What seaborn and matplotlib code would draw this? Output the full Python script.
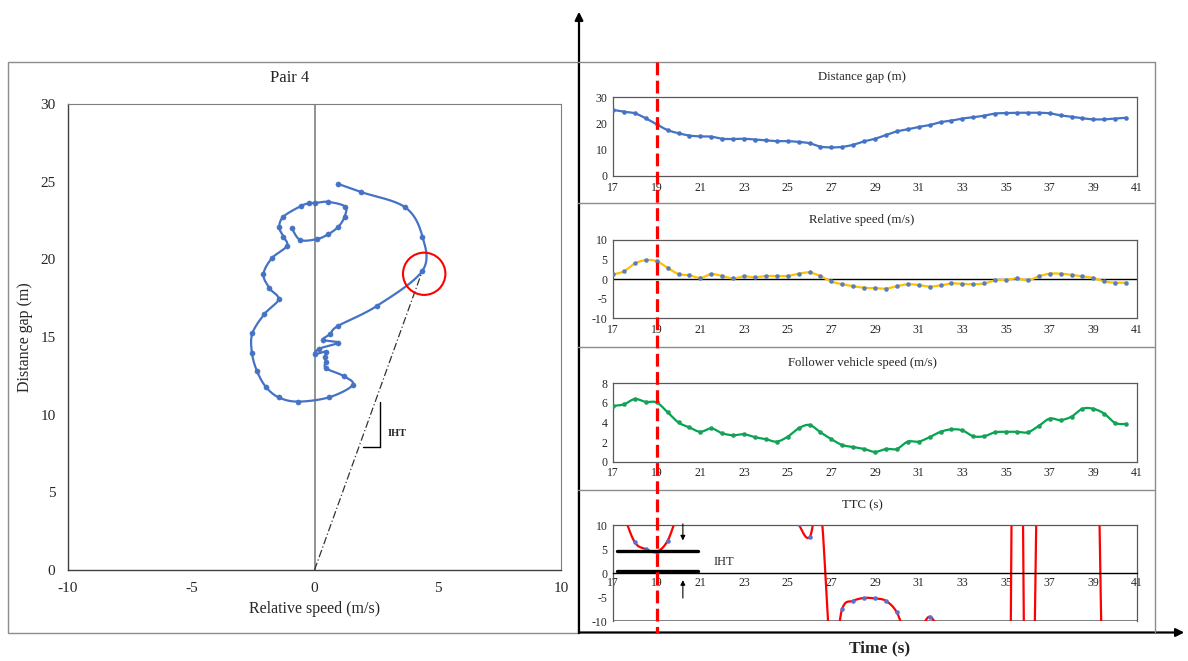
import numpy as np
import pandas as pd
import seaborn as sns
import matplotlib
matplotlib.use("Agg")
import matplotlib.pyplot as plt
from matplotlib.lines import Line2D
from matplotlib.patches import Ellipse, FancyArrowPatch, Rectangle

# ---------------- data ----------------
time = [17, 17.5, 18, 18.5, 19, 19.5, 20, 20.5, 21, 21.5, 22, 22.5, 23, 23.5, 24, 24.5,
        25, 25.5, 26, 26.5, 27, 27.5, 28, 28.5, 29, 29.5, 30, 30.5, 31, 31.5, 32, 32.5,
        33, 33.5, 34, 34.5, 35, 35.5, 36, 36.5, 37, 37.5, 38, 38.5, 39, 39.5, 40, 40.5]
gap = [25.2, 24.5, 23.9, 22.0, 19.7, 17.5, 16.3, 15.4, 15.1, 15.0, 14.2, 14.1, 14.2, 13.9, 13.6, 13.3,
       13.3, 13.0, 12.5, 11.2, 10.9, 11.1, 11.9, 13.2, 14.2, 15.6, 17.0, 17.8, 18.7, 19.4, 20.5, 21.1,
       21.9, 22.4, 23.0, 23.8, 24.0, 24.1, 24.1, 24.1, 23.9, 23.1, 22.6, 22.0, 21.6, 21.6, 21.9, 22.2]
rel = [1.2, 2.0, 4.0, 4.85, 4.6, 2.9, 1.3, 1.0, 0.3, 1.3, 0.8, 0.2, 0.7, 0.5, 0.8, 0.8,
       0.8, 1.4, 1.7, 0.8, -0.6, -1.3, -1.8, -2.2, -2.3, -2.4, -1.8, -1.3, -1.5, -1.9, -1.6, -1.1,
       -1.2, -1.3, -1.1, -0.3, -0.2, 0.2, -0.3, 0.7, 1.4, 1.4, 1.1, 0.7, 0.3, -0.6, -0.9, -0.9]
speed = [5.7, 5.85, 6.4, 6.1, 6.05, 5.05, 4.0, 3.5, 3.05, 3.4, 2.9, 2.7, 2.8, 2.5, 2.3, 2.05,
         2.55, 3.4, 3.75, 3.0, 2.3, 1.7, 1.5, 1.3, 1.0, 1.3, 1.3, 2.05, 2.05, 2.5, 3.05, 3.3,
         3.2, 2.6, 2.6, 3.0, 3.05, 3.05, 3.0, 3.65, 4.4, 4.25, 4.6, 5.4, 5.4, 4.9, 3.95, 3.85]
ttc = [21, 12.3, 6.4, 5.0, 4.4, 6.7, 12.5, 15.4, 22, 18, 20, 26, 20, 22, 17, 16.6,
       16.0, 10.2, 7.4, 14, -18, -7.4, -5.8, -5.2, -5.3, -5.8, -8.2, -13.7, -12.5, -9.1, -12.8, -19,
       -18, -17, -21, -80, -120, 120, -80, 34, 17, 16.5, 20.5, 31, 72, -36, -24, -24]

# phase diagram (left): relative speed vs distance gap
phase_rel = [0.97, 1.89, 3.68, 4.38, 4.38, 2.53, 0.95, 0.64, 0.35, 0.97, 0.2, 0.0, 0.46, 0.43,
             0.46, 0.46, 1.18, 1.55, 0.6, -0.68, -1.46, -1.98, -2.34, -2.54, -2.52, -2.03, -1.46,
             -1.83, -2.07, -1.73, -1.12, -1.26, -1.43, -1.26, -0.54, -0.24, 0.03, 0.54, 1.24,
             1.22, 0.97, 0.54, 0.09, -0.58, -0.92]
phase_gap = [24.85, 24.33, 23.35, 21.46, 19.27, 17.0, 15.71, 15.2, 14.82, 14.64, 14.25, 13.89,
             14.06, 13.73, 13.41, 12.99, 12.49, 11.91, 11.12, 10.84, 11.12, 11.8, 12.83, 13.99,
             15.24, 16.48, 17.43, 18.14, 19.04, 20.07, 20.86, 21.46, 22.05, 22.75, 23.44, 23.6,
             23.63, 23.7, 23.4, 22.75, 22.1, 21.6, 21.3, 21.25, 22.0]

time_ticks = [17, 19, 21, 23, 25, 27, 29, 31, 33, 35, 37, 39, 41]
event_time = 19
ttc_iht_low, ttc_iht_high = 0.35, 4.5

# ---------------- helpers ----------------
def smooth(x, y, n=16):
    P = np.column_stack([x, y]).astype(float)
    P = np.vstack([P[0], P, P[-1]])
    s = np.linspace(0, 1, n, endpoint=False)[:, None]
    h00 = 2 * s**3 - 3 * s**2 + 1
    h10 = s**3 - 2 * s**2 + s
    h01 = -2 * s**3 + 3 * s**2
    h11 = s**3 - s**2
    out = []
    for i in range(1, len(P) - 2):
        p0, p1, p2, p3 = P[i - 1], P[i], P[i + 1], P[i + 2]
        m1 = (p2 - p0) / 2
        m2 = (p3 - p1) / 2
        out.append(h00 * p1 + h10 * m1 + h01 * p2 + h11 * m2)
    out.append(P[-2][None, :])
    return np.vstack(out)

W, H = 1188, 661
def fx(x):
    return x / W
def fy(y):
    return 1 - y / H

sns.set_theme(style="white")
plt.rcParams["font.family"] = ["Liberation Serif", "DejaVu Serif"]
plt.rcParams["axes.unicode_minus"] = False

fig = plt.figure(figsize=(W / 100, H / 100), dpi=100)

# ---------------- left phase plot ----------------
axL = fig.add_axes([fx(68), fy(570), fx(561) - fx(68), fy(104) - fy(570)])
blue = "#4472C4"
sm = smooth(phase_rel, phase_gap, 20)
axL.axvline(0, color="#808080", lw=1.2, zorder=1)
sns.lineplot(x=sm[:, 0], y=sm[:, 1], sort=False, estimator=None, color=blue, lw=1.6, ax=axL, zorder=2)
sns.scatterplot(x=phase_rel, y=phase_gap, color=blue, s=14, edgecolor=None, ax=axL, zorder=3)
axL.set_xlim(-10, 10)
axL.set_ylim(0, 30)
axL.set_xticks([-10, -5, 0, 5, 10])
axL.set_yticks([0, 5, 10, 15, 20, 25, 30])
axL.tick_params(length=0, labelsize=11, pad=9)
axL.set_xlabel("Relative speed (m/s)", fontsize=11.5, labelpad=4)
axL.set_ylabel("Distance gap (m)", fontsize=11.5, labelpad=5)
for side in ["top", "right"]:
    axL.spines[side].set_color("#7f7f7f")
    axL.spines[side].set_linewidth(0.8)
for side in ["bottom", "left"]:
    axL.spines[side].set_color("#404040")
    axL.spines[side].set_linewidth(1.0)
# line from origin to the highlighted state and the circle
k = 4
axL.plot([0, phase_rel[k]], [0, phase_gap[k]], color="#333333", lw=0.9, ls=(0, (6, 2, 1, 2)), zorder=2)
axL.add_patch(Ellipse((phase_rel[k] + 0.07, phase_gap[k] - 0.2), width=1.72, height=2.72,
                      fill=False, ec="red", lw=1.5, zorder=4))
# IHT bracket
axL.plot([2.64, 2.64], [7.9, 10.8], color="black", lw=1.0)
axL.plot([1.95, 2.64], [7.9, 7.9], color="black", lw=1.0)
axL.text(2.95, 8.8, "IHT", fontsize=7.5, fontweight="bold", va="center", ha="left")
fig.text(fx(290), fy(78), "Pair 4", ha="center", va="center", fontsize=12)

# ---------------- right time-series panels ----------------
panels = [
    (gap, "Distance gap (m)", "#4472C4", "#4472C4", (0, 30), [0, 10, 20, 30], 97.3, 176.0, 77),
    (rel, "Relative speed (m/s)", "#FFC000", "#5B7DB8", (-10, 10), [-10, -5, 0, 5, 10], 240.0, 318.3, 220),
    (speed, "Follower vehicle speed (m/s)", "#00A650", "#1E9E5A", (0, 8), [0, 2, 4, 6, 8], 383.3, 461.7, 363),
    (ttc, "TTC (s)", "#FF0000", "#5B6FD0", (-10, 10), [-10, -5, 0, 5, 10], 525.0, 621.0, 505),
]
axes_r = []
for vals, title, lc, mc, ylim, yt, ytop, ybot, ttl_y in panels:
    ax = fig.add_axes([fx(613), fy(ybot), fx(1137) - fx(613), fy(ytop) - fy(ybot)])
    s2 = smooth(time, vals, 16)
    sns.lineplot(x=s2[:, 0], y=s2[:, 1], sort=False, estimator=None, color=lc, lw=1.6, ax=ax, zorder=2)
    sns.scatterplot(x=time, y=vals, color=mc, s=9, edgecolor=None, ax=ax, zorder=3)
    ax.set_xlim(17, 41)
    ax.set_ylim(*ylim)
    ax.set_xticks(time_ticks)
    ax.set_yticks(yt)
    ax.tick_params(length=0, labelsize=8.5, pad=4)
    ax.set_xlabel("")
    ax.set_ylabel("")
    for sp in ax.spines.values():
        sp.set_color("#595959")
        sp.set_linewidth(0.9)
    fig.text(fx(862), fy(ttl_y), title, ha="center", va="center", fontsize=9.2)
    axes_r.append(ax)

axes_r[1].axhline(0, color="black", lw=1.0, zorder=1)
axT = axes_r[3]
axT.spines["bottom"].set_position(("data", 0))
axT.spines["bottom"].set_color("black")
axT.spines["bottom"].set_linewidth(1.0)
axT.axhline(-10, color="#595959", lw=1.8, zorder=1)
axT.tick_params(axis="x", pad=3)
# IHT band in TTC panel
axT.plot([17.2, 20.9], [ttc_iht_high, ttc_iht_high], color="black", lw=2.4, zorder=4)
axT.plot([17.2, 20.9], [ttc_iht_low, ttc_iht_low], color="black", lw=2.4, zorder=4)
axT.annotate("", xy=(20.2, 6.2), xytext=(20.2, 10.8),
             arrowprops=dict(arrowstyle="-|>", color="black", lw=0.8, mutation_scale=7),
             annotation_clip=False)
axT.annotate("", xy=(20.2, -0.9), xytext=(20.2, -5.8),
             arrowprops=dict(arrowstyle="-|>", color="black", lw=0.8, mutation_scale=7),
             annotation_clip=False)
axT.text(21.6, 2.2, "IHT", fontsize=9, va="center", ha="left")

# ---------------- frames, arrows, event line ----------------
grey = "#8c8c8c"
fig.add_artist(Rectangle((fx(8), fy(633)), fx(578) - fx(8), fy(62) - fy(633),
                         transform=fig.transFigure, fill=False, ec=grey, lw=1.0))
fig.add_artist(Line2D([fx(578), fx(1155)], [fy(62), fy(62)], color=grey, lw=1.0))
fig.add_artist(Line2D([fx(1155), fx(1155)], [fy(62), fy(632)], color=grey, lw=1.0))
for yy in [203, 347, 490]:
    fig.add_artist(Line2D([fx(578), fx(1155)], [fy(yy), fy(yy)], color=grey, lw=1.0))

fig.add_artist(FancyArrowPatch((fx(579), fy(636)), (fx(579), fy(9)), transform=fig.transFigure,
                               arrowstyle="-|>", mutation_scale=12, color="black", lw=1.6))
fig.add_artist(FancyArrowPatch((fx(577), fy(632.5)), (fx(1187), fy(632.5)), transform=fig.transFigure,
                               arrowstyle="-|>", mutation_scale=12, color="black", lw=1.6))
fig.text(fx(880), fy(648), "Time (s)", ha="center", va="center", fontsize=12.5, fontweight="bold")

# red dashed event line at t = event_time, through all panels
xd = axT.transData.transform((event_time, 0))[0]
xf = fig.transFigure.inverted().transform((xd, 0))[0]
fig.add_artist(Line2D([xf, xf], [fy(62), fy(633)], color="#FF0000", lw=2.3, dashes=(4, 1.7)))

fig.savefig("out.png", dpi=100)
